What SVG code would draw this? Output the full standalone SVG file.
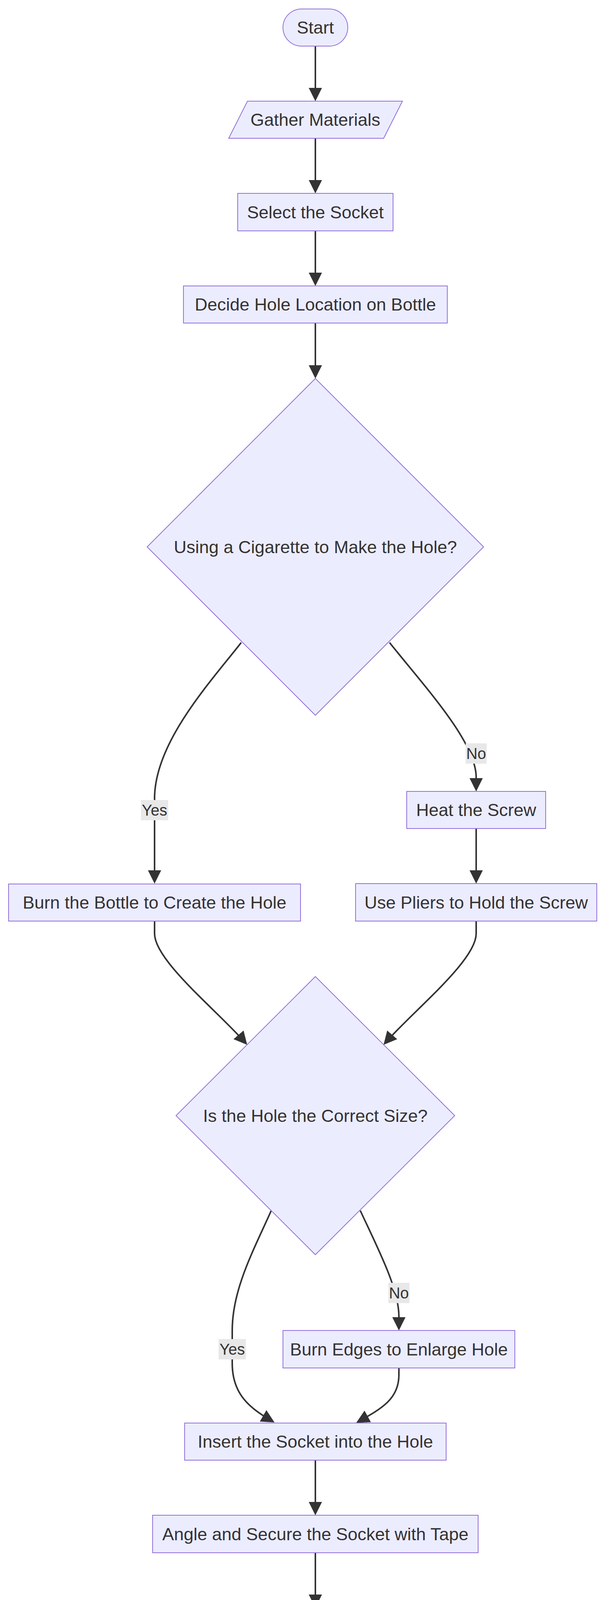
<svg xmlns="http://www.w3.org/2000/svg" width="1568" height="4996" viewBox="0 0 1568 4996">
<style>
.node{fill:#ECECFF;stroke:#9370DB;stroke-width:2}
.edge{fill:none;stroke:#333333;stroke-width:4}
.t{font-family:"Liberation Sans",Arial,sans-serif;font-size:45px;fill:#333333;text-anchor:middle}
.lt{font-family:"Liberation Sans",Arial,sans-serif;font-size:40px;fill:#333333;text-anchor:middle}
.lbg{fill:#E8E8E8}
</style>
<defs>
<marker id="arr" viewBox="0 0 10 10" refX="8.5" refY="5" markerUnits="userSpaceOnUse" markerWidth="34" markerHeight="34" orient="auto">
<path d="M0,0 L10,5 L0,10 z" fill="#333333"/>
</marker>
</defs>
<rect width="1568" height="4996" fill="#ffffff"/>
<g id="connectors">
<path class="edge" marker-end="url(#arr)" d="M808,118 L808,254"/>
<path class="edge" marker-end="url(#arr)" d="M808,354 L808,490"/>
<path class="edge" marker-end="url(#arr)" d="M808,591 L808,727"/>
<path class="edge" marker-end="url(#arr)" d="M808,827 L808,964"/>
<path class="edge" marker-end="url(#arr)" d="M618,1645 C540,1745 396,1900 396,2044 L396,2257"/>
<path class="edge" marker-end="url(#arr)" d="M998,1645 C1090,1760 1220,1900 1220,1990 L1220,2021"/>
<path class="edge" marker-end="url(#arr)" d="M1220,2121 L1220,2257"/>
<path class="edge" marker-end="url(#arr)" d="M396,2358 L396,2390 C396,2460 560,2590 630,2671"/>
<path class="edge" marker-end="url(#arr)" d="M1220,2358 L1220,2390 C1220,2460 1056,2590 986,2671"/>
<path class="edge" marker-end="url(#arr)" d="M695,3099 C650,3200 595,3300 595,3406 L595,3490 C595,3570 640,3605 699,3639"/>
<path class="edge" marker-end="url(#arr)" d="M923,3099 C970,3200 1022,3300 1022,3370 L1022,3401"/>
<path class="edge" marker-end="url(#arr)" d="M1022,3502 L1022,3520 C1022,3580 980,3605 917,3640"/>
<path class="edge" marker-end="url(#arr)" d="M808,3738 L808,3874"/>
<path class="edge" marker-end="url(#arr)" d="M808,3975 L808,4111"/>
<path class="edge" marker-end="url(#arr)" d="M808,4211 L808,4348"/>
<path class="edge" marker-end="url(#arr)" d="M808,4448 L808,4584"/>
<path class="edge" marker-end="url(#arr)" d="M808,4684 L808,4821"/>
</g>
<g id="edge-labels">
<g id="label-yes1"><rect class="lbg" x="361" y="2048" width="70" height="52"/><text class="lt" x="396" y="2088">Yes</text></g>
<g id="label-no1"><rect class="lbg" x="1193" y="1903" width="54" height="52"/><text class="lt" x="1220" y="1943">No</text></g>
<g id="label-yes2"><rect class="lbg" x="560" y="3428" width="70" height="52"/><text class="lt" x="595" y="3468">Yes</text></g>
<g id="label-no2"><rect class="lbg" x="995" y="3284" width="54" height="52"/><text class="lt" x="1022" y="3324">No</text></g>
</g>
<g id="start"><rect class="node" x="725" y="23" width="166" height="95" rx="47.5" ry="47.5"/><text class="t" x="808" y="86">Start</text></g>
<g id="gather"><polygon class="node" points="634,259 1031,259 983,354 586,354"/><text class="t" x="808" y="322">Gather Materials</text></g>
<g id="select"><rect class="node" x="609" y="495" width="398" height="96"/><text class="t" x="808" y="559">Select the Socket</text></g>
<g id="decide"><rect class="node" x="470" y="732" width="676" height="95"/><text class="t" x="808" y="795">Decide Hole Location on Bottle</text></g>
<g id="cigarette"><polygon class="node" points="808,969 1239,1400 808,1831 377,1400"/><text class="t" x="808" y="1416">Using a Cigarette to Make the Hole?</text></g>
<g id="burn"><rect class="node" x="22" y="2263" width="748" height="95"/><text class="t" x="396" y="2326">Burn the Bottle to Create the Hole</text></g>
<g id="heat"><rect class="node" x="1042" y="2026" width="356" height="95"/><text class="t" x="1220" y="2089">Heat the Screw</text></g>
<g id="pliers"><rect class="node" x="911" y="2262" width="618" height="96"/><text class="t" x="1220" y="2326">Use Pliers to Hold the Screw</text></g>
<g id="size"><polygon class="node" points="808,2500 1165,2856 808,3212 451,2856"/><text class="t" x="808" y="2872">Is the Hole the Correct Size?</text></g>
<g id="enlarge"><rect class="node" x="725" y="3406" width="594" height="96"/><text class="t" x="1022" y="3470">Burn Edges to Enlarge Hole</text></g>
<g id="insert"><rect class="node" x="473" y="3643" width="670" height="95"/><text class="t" x="808" y="3706">Insert the Socket into the Hole</text></g>
<g id="angle"><rect class="node" x="391" y="3879" width="834" height="96"/><text class="t" x="808" y="3943">Angle and Secure the Socket with Tape</text></g>
<g id="carb"><rect class="node" x="538" y="4116" width="540" height="95"/><text class="t" x="808" y="4179">Create Carburetor Holes</text></g>
<g id="water"><polygon class="node" points="573,4353 1091,4353 1044,4448 525,4448"/><text class="t" x="808" y="4416">Add Water to the Bong</text></g>
<g id="pack"><polygon class="node" points="523,4589 1140,4589 1093,4684 477,4684"/><text class="t" x="808" y="4652">Pack the Bowl with Product</text></g>
<g id="end"><rect class="node" x="737" y="4826" width="142" height="95" rx="47.5" ry="47.5"/><text class="t" x="808" y="4889">End</text></g>
</svg>
